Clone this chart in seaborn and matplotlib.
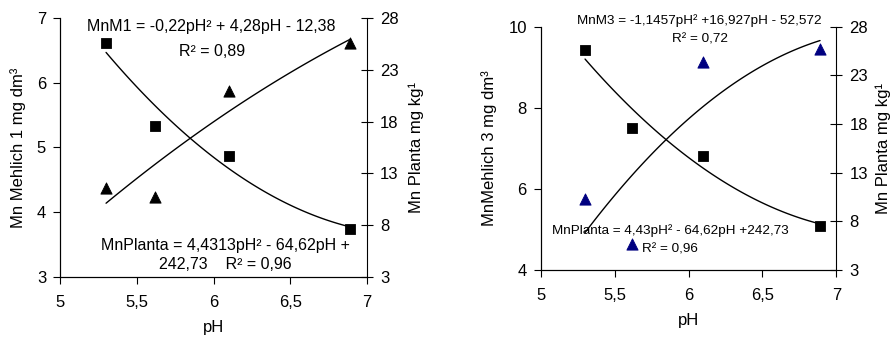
import numpy as np
import pandas as pd
import matplotlib
matplotlib.use("Agg")
import matplotlib.pyplot as plt
import seaborn as sns

# values
ph = [5.3, 5.62, 6.1, 6.89]
mn_mehlich1 = [4.38, 4.24, 5.88, 6.61]
mn_planta1 = [25.6, 17.6, 14.7, 7.6]
mn_mehlich3 = [5.74, 4.64, 9.13, 9.45]
mn_planta3 = [25.6, 17.6, 14.7, 7.5]

ph_ticks = [5, 5.5, 6, 6.5, 7]
ph_ticklabels = ["5", "5,5", "6", "6,5", "7"]
m1_ticks = [3, 4, 5, 6, 7]
m3_ticks = [4, 6, 8, 10]
planta_ticks = [3, 8, 13, 18, 23, 28]

sns.set_style("ticks")
plt.rcParams['font.family'] = ['Liberation Sans', 'DejaVu Sans']
plt.rcParams['axes.linewidth'] = 0.8
for key in ('text.color', 'axes.labelcolor', 'xtick.color', 'ytick.color', 'axes.edgecolor'):
    plt.rcParams[key] = 'black'

left = pd.DataFrame({'pH': ph, 'mehlich': mn_mehlich1, 'planta': mn_planta1})
right = pd.DataFrame({'pH': ph, 'mehlich': mn_mehlich3, 'planta': mn_planta3})

fig = plt.figure(figsize=(8.93, 3.41), dpi=100)
ax1 = fig.add_axes([0.0672, 0.1877, 0.3438, 0.7595])
ax2 = fig.add_axes([0.6055, 0.2082, 0.3310, 0.7135])


def draw_panel(ax, df, ylim, yticks, ylabel, tri_color, rlabelpad):
    axr = ax.twinx()
    sns.regplot(data=df, x='pH', y='mehlich', order=2, ci=None, scatter=False,
                ax=ax, line_kws={'color': 'black', 'lw': 1.0})
    sns.scatterplot(data=df, x='pH', y='mehlich', marker='^', s=65,
                    color=tri_color, edgecolor=tri_color, ax=ax, zorder=3)
    sns.regplot(data=df, x='pH', y='planta', order=2, ci=None, scatter=False,
                ax=axr, line_kws={'color': 'black', 'lw': 1.0})
    sns.scatterplot(data=df, x='pH', y='planta', marker='s', s=55,
                    color='black', edgecolor='black', ax=axr, zorder=3)

    ax.set_xlim(5, 7)
    ax.set_ylim(*ylim)
    axr.set_ylim(3, 28)
    ax.set_xticks(ph_ticks)
    ax.set_xticklabels(ph_ticklabels)
    ax.set_yticks(yticks)
    axr.set_yticks(planta_ticks)
    ax.set_xlabel('pH', fontsize=12, labelpad=7)
    ax.set_ylabel(ylabel, fontsize=12, labelpad=8)
    axr.set_ylabel('Mn Planta mg kg¹', fontsize=12, labelpad=rlabelpad)
    ax.tick_params(axis='both', labelsize=12, length=5, width=0.8, direction='out')
    ax.tick_params(axis='x', pad=8)
    ax.tick_params(axis='y', pad=5)
    axr.tick_params(axis='y', labelsize=12, length=9, width=0.8, direction='inout', pad=5)
    for a in (ax, axr):
        a.spines['top'].set_visible(False)
        a.set_facecolor('none')
    ax.spines['right'].set_visible(False)
    return axr


draw_panel(ax1, left, (3, 7), m1_ticks, 'Mn Mehlich 1 mg dm³', 'black', 7)
draw_panel(ax2, right, (4, 10), m3_ticks, 'MnMehlich 3 mg dm³', '#000080', 5)

# equation labels
fig.text(211 / 893, 1 - 27 / 341, 'MnM1 = -0,22pH² + 4,28pH - 12,38',
         ha='center', va='center', fontsize=11.5)
fig.text(212 / 893, 1 - 52 / 341, 'R² = 0,89', ha='center', va='center', fontsize=11.5)
fig.text(225 / 893, 1 - 255 / 341, 'MnPlanta = 4,4313pH² - 64,62pH +\n242,73    R² = 0,96',
         ha='center', va='center', fontsize=11.5, linespacing=1.4)

fig.text(699 / 893, 1 - 21 / 341, 'MnM3 = -1,1457pH² +16,927pH - 52,572',
         ha='center', va='center', fontsize=9.7)
fig.text(700 / 893, 1 - 39 / 341, 'R² = 0,72', ha='center', va='center', fontsize=9.7)
fig.text(670 / 893, 1 - 231 / 341, 'MnPlanta = 4,43pH² - 64,62pH +242,73',
         ha='center', va='center', fontsize=9.7)
fig.text(670 / 893, 1 - 250 / 341, 'R² = 0,96', ha='center', va='center', fontsize=9.7)

fig.savefig('out.png', dpi=100)
